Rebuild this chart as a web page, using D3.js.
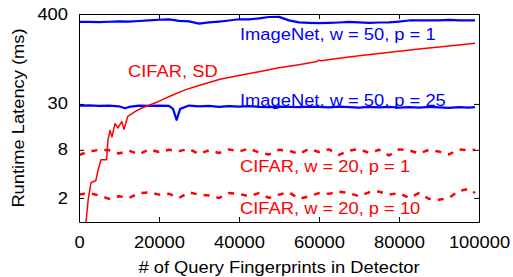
<!DOCTYPE html>
<html>
<head>
<meta charset="utf-8">
<script src="https://d3js.org/d3.v7.min.js"></script>
<style>
  body { margin: 0; background: #fff; }
  svg { display: block; }
</style>
</head>
<body>
<div id="vis"></div>
<script>

// ---- data ----
var xTicks = [0, 20000, 40000, 60000, 80000, 100000];
var yTicks = [2, 8, 30, 400];

// shared sample grid for the flat series
var gridX = d3.range(0, 99000, 2500).concat([99000]);

var imgP1 = [318, 319, 317, 320, 323, 322, 327, 333, 339, 342,
             328, 324, 303, 314, 322, 332, 344, 342, 352, 367,
             368, 333, 314, 310, 307, 309, 313, 318, 314, 309,
             313, 314, 322, 332, 333, 332, 333, 337, 333, 334, 333];

var imgP25X = [0, 2500, 5000, 7500, 10000, 11500, 12500, 15000, 17500, 20000,
               22500, 23500, 24400, 25300, 27500, 30000, 32500, 35000, 37500, 40000,
               42500, 45000, 47500, 50000, 52500, 55000, 57500, 60000, 62500, 65000,
               67500, 70000, 72500, 75000, 77500, 80000, 82500, 85000, 87500, 90000,
               92500, 95000, 97500, 99000];
var imgP25 = [28.5, 28.8, 28.3, 28.6, 28.0, 26.5, 27.5, 28.5, 28.3, 28.6,
              28.4, 26.0, 19.0, 26.0, 28.6, 28.0, 28.4, 27.6, 28.2, 27.8,
              28.2, 27.6, 27.4, 27.8, 27.6, 27.3, 27.8, 27.5, 27.2, 27.8,
              27.4, 27.0, 27.6, 27.2, 27.5, 27.0, 27.4, 27.0, 27.5, 27.2,
              26.8, 27.4, 27.0, 27.4];

var cifSdX = [1750, 2300, 3000, 4200, 4800, 5500, 6900, 7250, 7750, 8250,
              9000, 9750, 10700, 11250, 12200, 14000, 15700, 19750, 23000, 26500,
              30000, 35250, 40000, 45000, 50000, 55000, 59500, 60000, 60500, 65000,
              70000, 75000, 80000, 85000, 90000, 95000, 99000];
var cifSd = [1.0, 1.9, 3.1, 3.3, 4.5, 6.0, 6.0, 10.6, 14.0, 11.6,
             17.0, 15.0, 18.0, 14.5, 21.0, 24.0, 26.7, 32.0, 38.0, 45.0,
             51.0, 61.0, 68.0, 76.0, 85.0, 93.0, 102, 106, 104, 112,
             120, 128, 137, 146, 155, 164, 172];

var cifP1 = [6.9, 7.6, 8.0, 7.9, 7.2, 7.8, 7.0, 8.1, 7.5, 8.0,
             7.7, 8.2, 7.1, 7.9, 7.3, 8.1, 7.6, 8.3, 7.4, 7.0,
             8.0, 7.8, 7.1, 8.2, 7.5, 8.1, 6.9, 7.8, 8.2, 7.3,
             8.0, 6.8, 8.1, 7.9, 7.2, 8.0, 7.6, 7.0, 8.1, 7.9, 8.0];

var cifP10 = [2.2, 2.3, 2.15, 1.95, 2.1, 2.0, 2.3, 2.35, 2.2, 2.25,
              2.0, 2.35, 2.2, 2.15, 2.0, 2.3, 2.25, 2.1, 2.3, 2.0,
              2.2, 2.35, 1.95, 2.1, 2.3, 2.25, 2.4, 2.3, 2.1, 2.35,
              2.4, 2.2, 2.3, 2.0, 2.3, 1.95, 1.9, 2.0, 2.45, 2.6, 2.3];

// ---- layout ----
var W = 513, H = 277;
var pLeft = 79, pRight = 479, pTop = 14, pBottom = 222;
var SX = 1.16;           // the original font is wide
var FONT = "'Liberation Sans', Arial, Helvetica, sans-serif";
var FS = 15.8;
var BLUE = "#0000ff", RED = "#ff0000";

var svg = d3.select("#vis").append("svg").attr("width", W).attr("height", H);

var x = d3.scaleLinear().domain([0, 100000]).range([pLeft, pRight]);
var y = d3.scaleLog().domain([1, 400]).range([pBottom, pTop]);

function label(x0, y0, s, color, anchor, rot) {
  svg.append("text")
    .attr("transform", "translate(" + x0 + "," + y0 + ") rotate(" + (rot || 0) + ") scale(" + SX + ",1)")
    .attr("text-anchor", anchor || "start")
    .attr("font-family", FONT)
    .attr("font-size", FS)
    .attr("fill", color)
    .text(s);
}

// clip
svg.append("clipPath").attr("id", "plot")
  .append("rect").attr("x", pLeft).attr("y", pTop).attr("width", pRight - pLeft).attr("height", pBottom - pTop);

var line = d3.line().x(function(d) { return x(d[0]); }).y(function(d) { return y(d[1]); });
var lines = svg.append("g").attr("clip-path", "url(#plot)").attr("fill", "none");

function series(xs, ys, color, width, dash) {
  lines.append("path")
    .datum(d3.zip(xs, ys))
    .attr("d", line)
    .attr("stroke", color)
    .attr("stroke-width", width)
    .attr("stroke-linejoin", "round")
    .attr("stroke-dasharray", dash || null);
}

series(gridX, imgP1, BLUE, 2.2);
series(imgP25X, imgP25, BLUE, 2.2);
series(cifSdX, cifSd, RED, 1.5);
series(gridX, cifP1, RED, 2.5, "6,7");
series(gridX, cifP10, RED, 2.5, "6,7");

// ---- axes (ticks point inwards, frame on all sides) ----
function styleAxis(g) {
  g.attr("font-family", FONT).attr("font-size", FS);
  g.select(".domain").attr("stroke", "#000");
  g.selectAll(".tick line").attr("stroke", "#000");
}

var gx = svg.append("g").attr("transform", "translate(0," + pBottom + ")")
  .call(d3.axisBottom(x).tickValues(xTicks).tickFormat(d3.format("d"))
    .tickSizeInner(-5).tickSizeOuter(0).tickPadding(15));
styleAxis(gx);
gx.selectAll(".tick text").attr("fill", "#000").attr("transform", "scale(" + SX + ",1)");

var gy = svg.append("g").attr("transform", "translate(" + pLeft + ",0)")
  .call(d3.axisLeft(y).tickValues(yTicks).tickFormat(d3.format("d"))
    .tickSizeInner(-5).tickSizeOuter(0).tickPadding(11));
styleAxis(gy);
gy.selectAll(".tick text").attr("fill", "#000")
  .attr("x", -11 / SX).attr("transform", "scale(" + SX + ",1)");

var gt = svg.append("g").attr("transform", "translate(0," + pTop + ")")
  .call(d3.axisTop(x).tickValues(xTicks).tickFormat("").tickSizeInner(-5).tickSizeOuter(0));
styleAxis(gt);

var gr = svg.append("g").attr("transform", "translate(" + pRight + ",0)")
  .call(d3.axisRight(y).tickValues(yTicks).tickFormat("").tickSizeInner(-5).tickSizeOuter(0));
styleAxis(gr);

// ---- titles and series labels ----
label((pLeft + pRight) / 2, 272.5, "# of Query Fingerprints in Detector", "#000", "middle");
label(23.5, (pTop + pBottom) / 2, "Runtime Latency (ms)", "#000", "middle", -90);

label(240, 40, "ImageNet, w = 50, p = 1", BLUE);
label(128, 77, "CIFAR, SD", RED);
label(240, 105.5, "ImageNet, w = 50, p = 25", BLUE);
label(240, 172, "CIFAR, w = 20, p = 1", RED);
label(240, 214, "CIFAR, w = 20, p = 10", RED);

</script>
</body>
</html>
